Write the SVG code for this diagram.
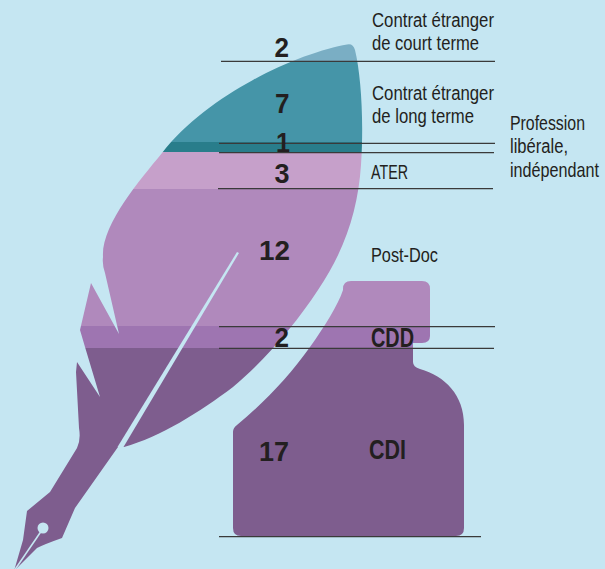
<svg xmlns="http://www.w3.org/2000/svg" width="605" height="569" viewBox="0 0 605 569">
<defs>
<style>
.lbl{font-family:"Liberation Sans Narrow","Liberation Sans",Arial,sans-serif;font-size:19.5px;fill:#231f20}
.lbw{font-family:"Liberation Sans",Arial,sans-serif;font-size:19.5px;fill:#231f20}
.num{font-family:"Liberation Sans Narrow","Liberation Sans",Arial,sans-serif;font-size:28px;font-weight:bold;fill:#231f20}
.rule{stroke:#3a3a3a;stroke-width:1.2;fill:none}
.gap{fill:#c5e6f2}
</style>
<linearGradient id="bands" gradientUnits="userSpaceOnUse" x1="0" y1="0" x2="0" y2="569">
<stop offset="0" stop-color="#7aaec4"/>
<stop offset="0.1075" stop-color="#7aaec4"/>
<stop offset="0.1075" stop-color="#4595a8"/>
<stop offset="0.2504" stop-color="#4595a8"/>
<stop offset="0.2504" stop-color="#297d8b"/>
<stop offset="0.2680" stop-color="#297d8b"/>
<stop offset="0.2680" stop-color="#c6a0ca"/>
<stop offset="0.3313" stop-color="#c6a0ca"/>
<stop offset="0.3313" stop-color="#b089bc"/>
<stop offset="0.5729" stop-color="#b089bc"/>
<stop offset="0.5729" stop-color="#9e75b1"/>
<stop offset="0.6116" stop-color="#9e75b1"/>
<stop offset="0.6116" stop-color="#7e5d8e"/>
<stop offset="1" stop-color="#7e5d8e"/>
</linearGradient>
</defs>
<rect width="605" height="569" fill="#c5e6f2"/>
<g id="inkwell">
<path fill="url(#bands)" d="M351,281 L422,281 Q430,281 430,289 L430,336 Q430,343 422,343 L413,343 L413,362 Q413,367 420,369 C445,376 464,395 464,425 L464,528 Q464,536 456,536 L241,536 Q233,536 233,528 L233,432 Q233,428 237,425 C265,402 290,375 310,347 C325,326 338,305 343,290 L343,289 Q343,281 351,281 Z"/>
</g>
<g id="feather">
<path fill="url(#bands)" d="M355,50 C361,75 364,120 361,165 C358,210 345,250 318,290 C295,325 265,360 233,387 C200,412 160,437 124,447 L118,447 L75,508 L62,538 Q45,544 37,548 L14,571 L23,540 L27,511 L50,492 L77,448 Q81,440 79,428 L76,372 L77,362 L100,397 L85,347 L80,330 L91,283 L119,334 L105,273 Q102,264 103,257 C101,225 140,180 162,153 C185,123 220,98 253,80 C285,62 325,48 347,44.5 Q353,43 355,50 Z"/>
<polygon class="gap" points="237,252 239,253 123.5,447 117.5,447"/>
<circle class="gap" cx="43" cy="528" r="5.5"/>
<line x1="42" y1="530" x2="14" y2="571" stroke="#c5e6f2" stroke-width="1.6"/>
</g>
<g id="connectors">
<line class="rule" x1="221" y1="61.3" x2="495" y2="61.3"/>
<line class="rule" x1="219" y1="143.4" x2="495" y2="143.4"/>
<line class="rule" x1="219" y1="152.6" x2="494" y2="152.6"/>
<line class="rule" x1="218" y1="188.6" x2="493" y2="188.6"/>
<line class="rule" x1="219" y1="326.6" x2="495" y2="326.6"/>
<line class="rule" x1="219" y1="348.3" x2="494" y2="348.3"/>
<line class="rule" x1="219" y1="536.6" x2="481" y2="536.6"/>
</g>
<g id="values">
<text class="num" x="274.5" y="57" textLength="14.5" lengthAdjust="spacingAndGlyphs">2</text>
<text class="num" x="275" y="113" textLength="14.5" lengthAdjust="spacingAndGlyphs">7</text>
<text class="num" x="276" y="152" textLength="14" lengthAdjust="spacingAndGlyphs">1</text>
<text class="num" x="274.5" y="183" textLength="15" lengthAdjust="spacingAndGlyphs">3</text>
<text class="num" x="259" y="260" textLength="31" lengthAdjust="spacingAndGlyphs">12</text>
<text class="num" x="274.5" y="347" textLength="14.5" lengthAdjust="spacingAndGlyphs">2</text>
<text class="num" x="259" y="461" textLength="30" lengthAdjust="spacingAndGlyphs">17</text>
</g>
<g id="labels">
<text class="lbl" x="372" y="26.5" textLength="122" lengthAdjust="spacingAndGlyphs">Contrat étranger</text>
<text class="lbl" x="372" y="49.5" textLength="107" lengthAdjust="spacingAndGlyphs">de court terme</text>
<text class="lbl" x="372" y="99.5" textLength="122" lengthAdjust="spacingAndGlyphs">Contrat étranger</text>
<text class="lbl" x="372" y="122.5" textLength="102" lengthAdjust="spacingAndGlyphs">de long terme</text>
<text class="lbl" x="510" y="130" textLength="75" lengthAdjust="spacingAndGlyphs">Profession</text>
<text class="lbl" x="510" y="153" textLength="58" lengthAdjust="spacingAndGlyphs">libérale,</text>
<text class="lbw" transform="translate(510,176.5) scale(0.83,1)">indépendant</text>
<text class="lbl" x="371" y="179" textLength="37" lengthAdjust="spacingAndGlyphs">ATER</text>
<text class="lbl" x="371" y="261.5" textLength="67" lengthAdjust="spacingAndGlyphs">Post-Doc</text>
<text class="num" x="371" y="347" textLength="43" lengthAdjust="spacingAndGlyphs">CDD</text>
<text class="num" x="369" y="459" textLength="37" lengthAdjust="spacingAndGlyphs">CDI</text>
</g>
</svg>
